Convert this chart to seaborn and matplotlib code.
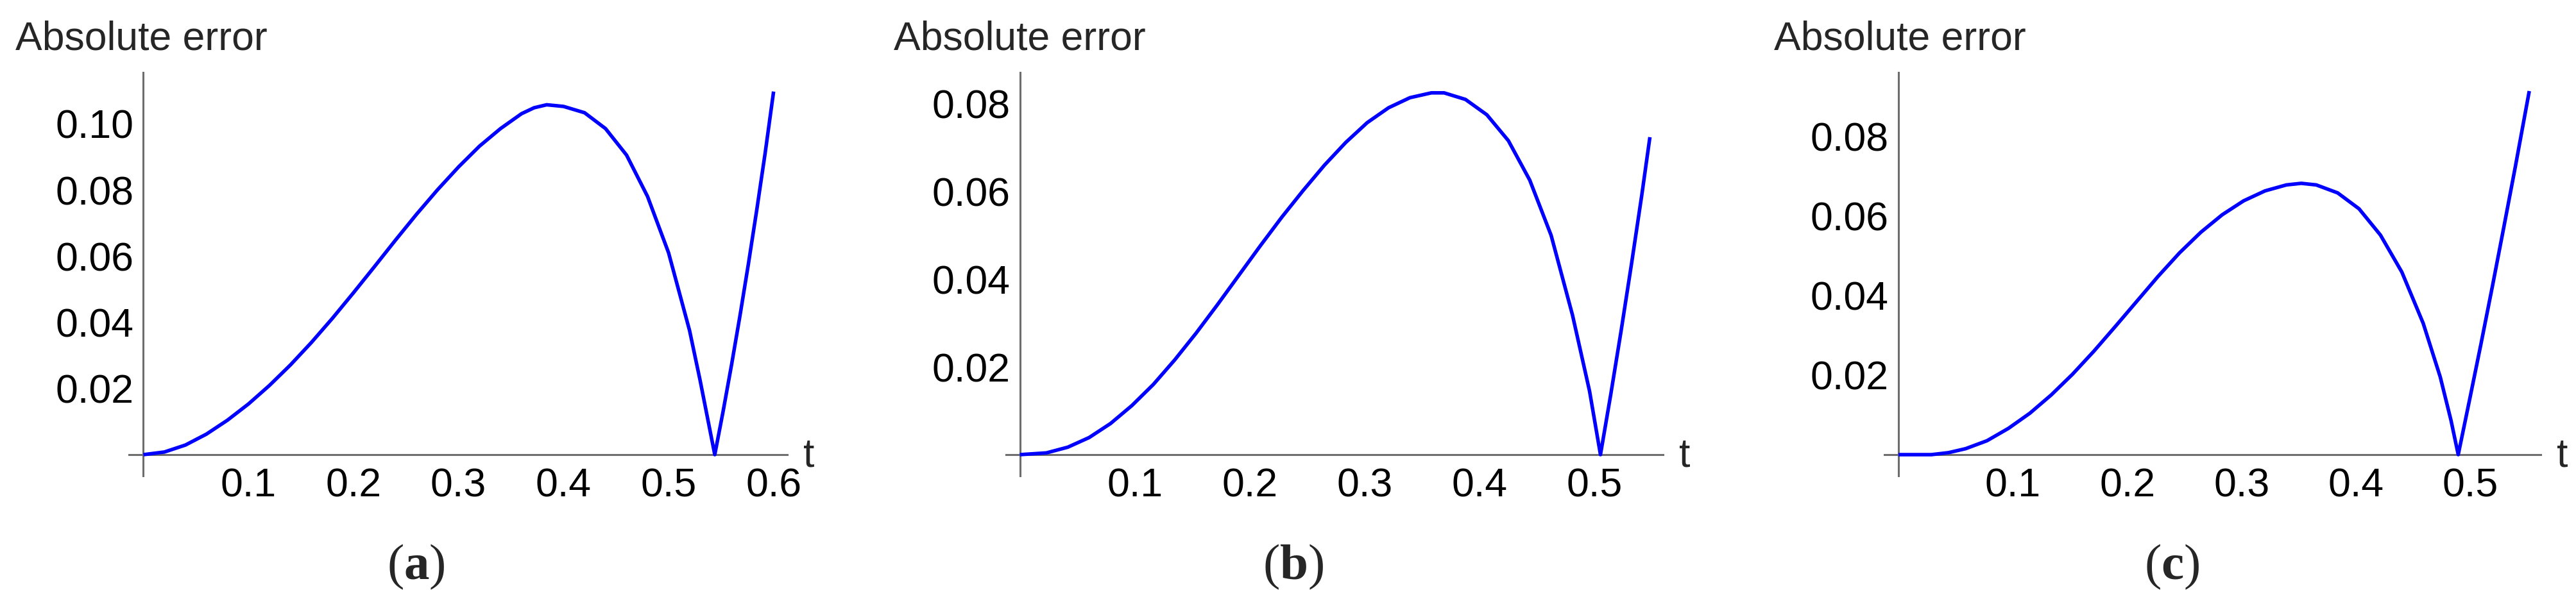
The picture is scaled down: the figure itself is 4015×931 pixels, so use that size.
import matplotlib
matplotlib.use("Agg")
import matplotlib.pyplot as plt
from matplotlib.ticker import FixedLocator, MultipleLocator, FormatStrFormatter
import seaborn as sns

# ---- data (t, absolute error) ----
t_a = [0.00, 0.02, 0.04, 0.06, 0.08, 0.10, 0.12, 0.14, 0.16, 0.18, 0.20, 0.22,
       0.24, 0.26, 0.28, 0.30, 0.32, 0.34, 0.36, 0.372, 0.384, 0.40, 0.42, 0.44,
       0.46, 0.48, 0.50, 0.52, 0.53, 0.544, 0.552, 0.560, 0.568, 0.576, 0.584,
       0.592, 0.600]
err_a = [0.0, 0.0008, 0.0029, 0.0062, 0.0104, 0.0153, 0.0209, 0.0271, 0.0339,
         0.0412, 0.0489, 0.0568, 0.0648, 0.0726, 0.0800, 0.0869, 0.0932, 0.0985,
         0.1030, 0.1048, 0.1057, 0.1052, 0.1033, 0.0985, 0.0905, 0.0780, 0.0610,
         0.0375, 0.0225, 0.0, 0.0132, 0.0272, 0.0420, 0.0576, 0.0740, 0.0912,
         0.1097]

t_b = [0.0, 0.0231, 0.0417, 0.0603, 0.0789, 0.0975, 0.1161, 0.1347, 0.1533,
       0.1719, 0.1905, 0.2091, 0.2277, 0.2463, 0.2649, 0.2835, 0.3021, 0.3207,
       0.3393, 0.3579, 0.3690, 0.3876, 0.4062, 0.4249, 0.4435, 0.4621, 0.4807,
       0.4955, 0.5050, 0.514, 0.523, 0.532, 0.541, 0.548]
err_b = [0.0, 0.0004, 0.0017, 0.0039, 0.0071, 0.0112, 0.0160, 0.0216, 0.0277,
         0.0342, 0.0409, 0.0476, 0.0541, 0.0602, 0.0660, 0.0712, 0.0757, 0.0791,
         0.0814, 0.0825, 0.0825, 0.0810, 0.0775, 0.0716, 0.0626, 0.0500, 0.0318,
         0.0145, 0.0, 0.0138, 0.0283, 0.0435, 0.0593, 0.0724]

t_c = [0.0, 0.0288, 0.0437, 0.0587, 0.0774, 0.0961, 0.1148, 0.1335, 0.1521,
       0.1708, 0.1895, 0.2082, 0.2269, 0.2456, 0.2643, 0.2830, 0.3017, 0.3204,
       0.3391, 0.3521, 0.3652, 0.3839, 0.4026, 0.4213, 0.4400, 0.4587, 0.4736,
       0.4830, 0.4893, 0.4993, 0.5093, 0.5193, 0.5293, 0.5393, 0.5514]
err_c = [0.0, 0.0, 0.0005, 0.0015, 0.0035, 0.0066, 0.0104, 0.0150, 0.0202,
         0.0260, 0.0322, 0.0385, 0.0448, 0.0507, 0.0559, 0.0603, 0.0638, 0.0663,
         0.0678, 0.0682, 0.0678, 0.0658, 0.0618, 0.0552, 0.0459, 0.0330, 0.0195,
         0.0086, 0.0, 0.0139, 0.0280, 0.0425, 0.0574, 0.0725, 0.0914]

xticks_a = [0.1, 0.2, 0.3, 0.4, 0.5, 0.6]
yticks_a = [0.02, 0.04, 0.06, 0.08, 0.10]
xticks_bc = [0.1, 0.2, 0.3, 0.4, 0.5]
yticks_bc = [0.02, 0.04, 0.06, 0.08]
tags = ["a", "b", "c"]

# ---- layout (pixels of the 4015 x 931 canvas) ----
W, H, DPI = 4015, 931, 100
AXIS_GRAY = "#6d6d6d"
BLUE = "#0000ff"
FS = 45

panels = [
    dict(t=t_a, err=err_a, xt=xticks_a, yt=yticks_a, box=(200.7, 112.8, 1226.7, 741.7),
         xlim=(-0.0139, 0.6128), ylim=(-0.00633, 0.1155), title_x=24, tag_x=648),
    dict(t=t_b, err=err_b, xt=xticks_bc, yt=yticks_bc, box=(1568, 112.8, 2592, 741.7),
         xlim=(-0.0120, 0.5594), ylim=(-0.00478, 0.08718), title_x=1393, tag_x=2016),
    dict(t=t_c, err=err_c, xt=xticks_bc, yt=yticks_bc, box=(2936.7, 112.8, 3960, 741.7),
         xlim=(-0.0125, 0.5614), ylim=(-0.00527, 0.0961), title_x=2765, tag_x=3385),
]

sns.set_theme(style="white")
plt.rcParams["font.family"] = ["Liberation Sans", "DejaVu Sans"]
plt.rcParams["mathtext.fontset"] = "custom"
plt.rcParams["mathtext.rm"] = "Liberation Serif"
plt.rcParams["mathtext.bf"] = "Liberation Serif:bold"

fig = plt.figure(figsize=(W / DPI, H / DPI), dpi=DPI)
fig.patch.set_facecolor("white")

for tag, p in zip(tags, panels):
    x0, y0, x1, y1 = p["box"]
    ax = fig.add_axes([x0 / W, 1 - y1 / H, (x1 - x0) / W, (y1 - y0) / H])
    ax.patch.set_alpha(0)
    sns.lineplot(x=p["t"], y=p["err"], ax=ax, color=BLUE, linewidth=4,
                 estimator=None, sort=False, zorder=3,
                 solid_joinstyle="round", solid_capstyle="butt")
    ax.set_xlim(*p["xlim"])
    ax.set_ylim(*p["ylim"])

    for side in ("top", "right"):
        ax.spines[side].set_visible(False)
    for side in ("left", "bottom"):
        ax.spines[side].set_position(("data", 0))
        ax.spines[side].set_color(AXIS_GRAY)
        ax.spines[side].set_linewidth(2.2)

    ax.xaxis.set_major_locator(FixedLocator(p["xt"]))
    ax.yaxis.set_major_locator(FixedLocator(p["yt"]))
    ax.xaxis.set_minor_locator(MultipleLocator(0.02))
    ax.yaxis.set_minor_locator(MultipleLocator(0.005))
    ax.xaxis.set_major_formatter(FormatStrFormatter("%.1f"))
    ax.yaxis.set_major_formatter(FormatStrFormatter("%.2f"))
    ax.tick_params(which="both", direction="in", color=AXIS_GRAY, width=2.0,
                   labelcolor="black", labelsize=FS)
    ax.tick_params(which="major", length=8.5)
    ax.tick_params(which="minor", length=5.5)
    ax.tick_params(axis="y", pad=11)
    ax.tick_params(axis="x", pad=14)
    ax.set_xlabel("")
    ax.set_ylabel("")

    fig.text(p["title_x"] / W, 1 - 77 / H, "Absolute error", fontsize=FS,
             ha="left", va="baseline")
    fig.text((x1 + 25) / W, 1 - 728 / H, "t", fontsize=FS, ha="left", va="baseline")
    fig.text(p["tag_x"] / W, 1 - 903 / H, r"$\mathrm{(}\mathbf{%s}\mathrm{)}$" % tag,
             fontsize=57, ha="center", va="baseline")

fig.savefig("out.png", dpi=DPI)
